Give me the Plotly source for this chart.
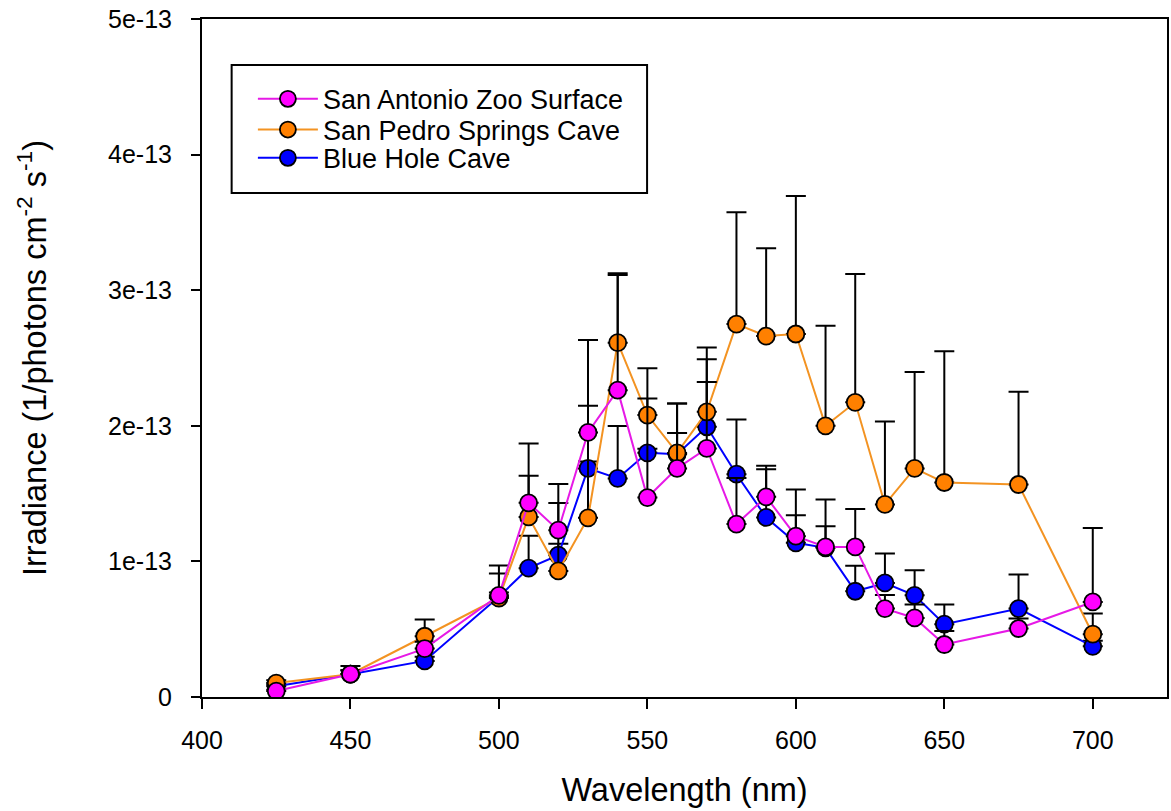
import plotly.graph_objects as go

# Wavelength bins (nm)
wavelength = [425, 450, 475, 500, 510, 520, 530, 540, 550, 560, 570,
              580, 590, 600, 610, 620, 630, 640, 650, 675, 700]

# Irradiance in units of 1e-13 photons cm^-2 s^-1, with upper error (same units)
zoo_surface = [0.044, 0.168, 0.357, 0.750, 1.432, 1.230, 1.951, 2.263, 1.471, 1.686, 1.833,
               1.275, 1.476, 1.186, 1.107, 1.107, 0.652, 0.583, 0.387, 0.505, 0.701]
zoo_surface_err = [0.010, 0.030, 0.050, 0.020, 0.200, 0.340, 0.197, 0.850, 0.730, 0.260, 0.490,
                   0.340, 0.230, 0.345, 0.350, 0.280, 0.100, 0.100, 0.100, 0.074, 0.546]

san_pedro = [0.103, 0.168, 0.448, 0.730, 1.328, 0.930, 1.321, 2.613, 2.079, 1.800, 2.103,
             2.750, 2.662, 2.677, 2.000, 2.173, 1.420, 1.686, 1.582, 1.567, 0.463]
san_pedro_err = [0.020, 0.060, 0.123, 0.240, 0.542, 0.500, 1.312, 0.512, 0.345, 0.365, 0.475,
                 0.825, 0.647, 1.018, 0.738, 0.947, 0.612, 0.710, 0.967, 0.684, 0.152]

blue_hole = [0.080, 0.168, 0.266, 0.740, 0.950, 1.046, 1.686, 1.612, 1.801, 1.790, 1.993,
             1.643, 1.324, 1.137, 1.100, 0.780, 0.841, 0.750, 0.537, 0.652, 0.374]
blue_hole_err = [0.010, 0.030, 0.030, 0.170, 0.240, 0.085, 0.050, 0.386, 0.030, 0.375, 0.497,
                 0.404, 0.356, 0.204, 0.160, 0.187, 0.217, 0.185, 0.145, 0.251, 0.040]

SCALE = 1e-13

x_ticks = [400, 450, 500, 550, 600, 650, 700]
y_tick_vals = [0, 1, 2, 3, 4, 5]
y_tick_text = ["0", "1e-13", "2e-13", "3e-13", "4e-13", "5e-13"]

# Figure geometry (pixels)
W, H = 1171, 811
M_L, M_R, M_T, M_B = 202, 2, 19, 114
PW, PH = W - M_L - M_R, H - M_T - M_B


def px_x(px):
    return (px - M_L) / PW


def px_y(py):
    return (H - M_B - py) / PH


FONT = "Liberation Sans, Arial, sans-serif"

series = [
    # drawn bottom to top
    ("Blue Hole Cave", blue_hole, blue_hole_err, "#0000FF", "#0000FF", "legend3", 158.3),
    ("San Pedro Springs Cave", san_pedro, san_pedro_err, "#FF8000", "#F39322", "legend2", 130.0),
    ("San Antonio Zoo Surface", zoo_surface, zoo_surface_err, "#FF00FF", "#E619E6", "legend", 99.3),
]

fig = go.Figure()
for name, vals, errs, fill, linecol, leg, _ in series:
    fig.add_trace(go.Scatter(
        x=wavelength,
        y=[v * SCALE for v in vals],
        name=name,
        mode="lines+markers",
        line=dict(color=linecol, width=2),
        marker=dict(symbol="circle", size=17, color=fill,
                    line=dict(color="black", width=1.8)),
        error_y=dict(type="data", symmetric=False,
                     array=[e * SCALE for e in errs],
                     arrayminus=[0] * len(errs),
                     color="black", thickness=2, width=10),
        legend=leg,
    ))

legend_common = dict(
    font=dict(family=FONT, size=27, color="black"),
    bgcolor="rgba(0,0,0,0)",
    borderwidth=0,
    xanchor="left",
    yanchor="middle",
    itemwidth=60,
)
legends = {}
for name, vals, errs, fill, linecol, leg, row_y in series:
    legends[leg] = dict(legend_common, x=px_x(253), y=px_y(row_y))

fig.update_layout(
    width=W, height=H,
    margin=dict(l=M_L, r=M_R, t=M_T, b=M_B, pad=0),
    paper_bgcolor="white",
    plot_bgcolor="white",
    font=dict(family=FONT, color="black"),
    showlegend=True,
    **legends,
    shapes=[dict(
        type="rect", xref="paper", yref="paper",
        x0=px_x(231.7), x1=px_x(648), y0=px_y(193), y1=px_y(65),
        line=dict(color="black", width=2), fillcolor="white", layer="below",
    )],
    xaxis=dict(
        range=[400, 725],
        tickvals=x_ticks,
        ticks="outside", ticklen=10, tickwidth=2, tickcolor="black",
        showline=True, linecolor="black", linewidth=2, mirror=True,
        showgrid=False, zeroline=False,
        tickfont=dict(family=FONT, size=25),
        ticklabelstandoff=10,
        title=dict(text="Wavelength (nm)", font=dict(family=FONT, size=32.5), standoff=25),
    ),
    yaxis=dict(
        range=[0, 5 * SCALE],
        tickvals=[v * SCALE for v in y_tick_vals],
        ticktext=y_tick_text,
        ticks="outside", ticklen=9, tickwidth=2, tickcolor="black",
        showline=True, linecolor="black", linewidth=2, mirror=True,
        showgrid=False, zeroline=False,
        tickfont=dict(family=FONT, size=25),
        ticklabelstandoff=14,
        title=dict(text="Irradiance (1/photons cm<sup>-2</sup> s<sup>-1</sup>)",
                   font=dict(family=FONT, size=32.5), standoff=52),
    ),
)

fig.write_html("out.html")
